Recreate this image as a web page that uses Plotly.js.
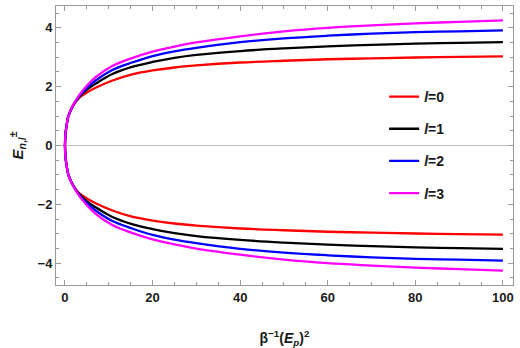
<!DOCTYPE html>
<html>
<head>
<meta charset="utf-8">
<script src="https://cdn.plot.ly/plotly-3.0.1.min.js"></script>
<style>html,body{margin:0;padding:0;background:#fff;}#chart{width:520px;height:348px;}</style>
</head>
<body>
<div id="chart"></div>
<script>
// x values: beta^-1 (E_p)^2
const xs = [0, 0.15, 0.4, 0.76, 1.5, 2.36, 3.3, 5, 7, 10.7, 15.3, 20, 25, 30, 40, 50, 60, 70, 80, 90, 100];
// upper branch E_{n,l}^+ for each l (lower branch is its negative)
const E_l0 = [0, 0.43, 0.71, 0.99, 1.25, 1.46, 1.63, 1.80, 1.96, 2.20, 2.42, 2.55, 2.65, 2.72, 2.82, 2.88, 2.93, 2.96, 2.99, 3.01, 3.03];
const E_l1 = [0, 0.43, 0.71, 0.99, 1.26, 1.48, 1.66, 1.90, 2.10, 2.42, 2.67, 2.84, 2.98, 3.08, 3.21, 3.30, 3.37, 3.42, 3.46, 3.49, 3.51];
const E_l2 = [0, 0.43, 0.71, 0.99, 1.26, 1.49, 1.69, 1.96, 2.21, 2.56, 2.82, 3.04, 3.20, 3.32, 3.51, 3.64, 3.73, 3.80, 3.85, 3.88, 3.91];
const E_l3 = [0, 0.43, 0.71, 0.99, 1.27, 1.50, 1.72, 2.03, 2.32, 2.69, 2.97, 3.19, 3.36, 3.50, 3.71, 3.88, 4.00, 4.08, 4.15, 4.20, 4.25];
const labels = ['<i>l</i>=0', '<i>l</i>=1', '<i>l</i>=2', '<i>l</i>=3'];
const colors = ['#ff0000', '#000000', '#0000ff', '#ff00ff'];
const series = [E_l0, E_l1, E_l2, E_l3];

const traces = series.map((E, i) => {
  const xr = xs.slice().reverse();
  const lower = E.slice().reverse().map(v => -v);
  return {
    x: xr.concat(xs.slice(1)),
    y: lower.concat(E.slice(1)),
    mode: 'lines',
    name: labels[i],
    legendgroup: 'g' + i,
    line: {color: colors[i], width: 2.3, shape: 'spline', smoothing: 1.0}
  };
});

const fam = 'Liberation Sans, Arial, sans-serif';
const tickFont = {family: fam, size: 13, color: '#1a1a1a', weight: 'bold'};
const axisCommon = {
  showline: true, mirror: 'ticks', linecolor: '#9a9a9a', linewidth: 1,
  ticks: 'inside', ticklen: 5, tickcolor: '#9a9a9a', tickwidth: 1,
  showgrid: false, tickfont: tickFont, automargin: true
};

const layout = {
  width: 520, height: 348,
  margin: {l: 56, r: 7, t: 5, b: 61},
  paper_bgcolor: '#fff', plot_bgcolor: '#fff',
  showlegend: true,
  legend: {
    x: 0.718, y: 0.502, xanchor: 'left', yanchor: 'middle',
    font: {family: fam, size: 14, color: '#1a1a1a', weight: 'bold'},
    bgcolor: 'rgba(0,0,0,0)', traceorder: 'grouped', tracegroupgap: 11
  },
  xaxis: Object.assign({}, axisCommon, {
    range: [-2.05, 102.3], tickvals: [0, 20, 40, 60, 80, 100], zeroline: false,
    minor: {dtick: 5, tick0: 0, ticks: 'inside', ticklen: 3, tickcolor: '#9a9a9a'},
    title: {text: 'β<sup>−1</sup>(<i>E</i><sub><i>p</i></sub>)<sup>2</sup>', standoff: 29,
      font: {family: fam, size: 14, color: '#1a1a1a', weight: 'bold'}}
  }),
  yaxis: Object.assign({}, axisCommon, {
    range: [-4.74, 4.74], tickvals: [-4, -2, 0, 2, 4],
    zeroline: true, zerolinecolor: '#c0c0c0', zerolinewidth: 1,
    minor: {dtick: 0.5, tick0: 0, ticks: 'inside', ticklen: 3, tickcolor: '#9a9a9a'},
    title: {text: '<i>E</i><sub><i>n</i>,<i>l</i></sub><sup>±</sup>', standoff: 10,
      font: {family: fam, size: 15, color: '#1a1a1a', weight: 'bold'}}
  })
};

Plotly.newPlot('chart', traces, layout, {displayModeBar: false, staticPlot: true});
</script>
</body>
</html>
